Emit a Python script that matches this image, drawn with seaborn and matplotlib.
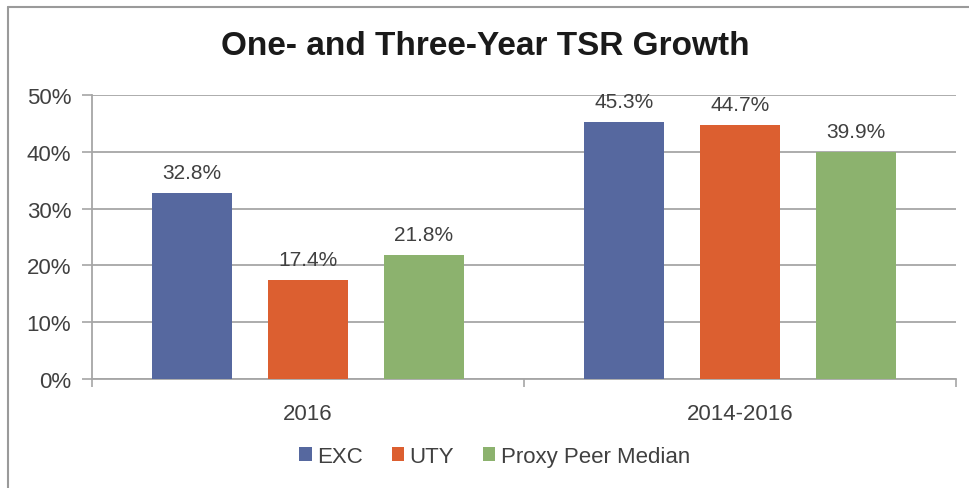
import seaborn as sns
import pandas as pd
import matplotlib.pyplot as plt
from matplotlib.font_manager import fontManager

periods = ["2016", "2014-2016"]
series = ["EXC", "UTY", "Proxy Peer Median"]
exc = [32.8, 45.3]
uty = [17.4, 44.7]
peer = [21.8, 39.9]
colors = ["#56689f", "#dc5f30", "#8cb26e"]

rows = []
for name, vals in zip(series, [exc, uty, peer]):
    for p, v in zip(periods, vals):
        rows.append([p, name, v])
df = pd.DataFrame(rows, columns=["period", "series", "value"])

sns.set_style("white")
names = {f.name for f in fontManager.ttflist}
title_font = "Liberation Sans Narrow" if "Liberation Sans Narrow" in names else "Liberation Sans"
plt.rcParams["font.family"] = ["Liberation Sans", "DejaVu Sans"]

fig = plt.figure(figsize=(9.7, 4.89), dpi=100)
ax = fig.add_axes([0.0948, 0.2229, 0.8908, 0.5808])

sns.barplot(data=df, x="period", y="value", hue="series", order=periods,
            hue_order=series, palette=colors, width=0.805, gap=0.31,
            saturation=1, linewidth=0, ax=ax, zorder=3)

for cont in ax.containers:
    for bar in cont:
        h = bar.get_height()
        ax.annotate(f"{h:.1f}%", (bar.get_x() + bar.get_width() / 2, h),
                    xytext=(0, 8), textcoords="offset points", ha="center",
                    va="bottom", fontsize=15, color="#404040")

ax.set_ylim(0, 50)
ax.set_xlim(-0.5, 1.5)
ax.set_yticks(range(0, 51, 10))
ax.set_yticklabels([f"{v}%" for v in range(0, 51, 10)])
ax.yaxis.grid(True, color="#a6a6a6", linewidth=1.3, zorder=0)
ax.set_axisbelow(True)
ax.tick_params(axis="y", left=True, length=7, width=1.2, color="#a6a6a6",
               labelsize=16, labelcolor="#404040", pad=8)
ax.tick_params(axis="x", which="major", length=0, labelsize=16,
               labelcolor="#404040", pad=17)
ax.set_xticks([-0.5, 0.5, 1.5], minor=True)
ax.tick_params(axis="x", which="minor", bottom=True, length=6, width=1.2,
               color="#a6a6a6")
for s in ["top", "right"]:
    ax.spines[s].set_visible(False)
for s in ["left", "bottom"]:
    ax.spines[s].set_color("#a6a6a6")
    ax.spines[s].set_linewidth(1.3)
ax.set_xlabel("")
ax.set_ylabel("")

fig.text(0.5, 0.905, "One- and Three-Year TSR Growth", ha="center",
         va="center", fontsize=24, fontweight="bold", color="#1a1a1a",
         family=title_font)

handles, labels = ax.get_legend_handles_labels()
ax.legend(handles, labels, loc="center", bbox_to_anchor=(0.51, 0.065),
          bbox_transform=fig.transFigure, ncol=3, frameon=False,
          fontsize=16, handlelength=0.55, handleheight=0.55, handletextpad=0.25,
          columnspacing=1.3, labelcolor="#404040")

# outer frame of the chart image
fig.add_artist(plt.Line2D([0.008, 0.008], [0, 0.984], color="#9a9a9a",
                          lw=1.5, transform=fig.transFigure))
fig.add_artist(plt.Line2D([0.008, 1], [0.984, 0.984], color="#9a9a9a",
                          lw=1.5, transform=fig.transFigure))

fig.savefig("out.png", dpi=100)
